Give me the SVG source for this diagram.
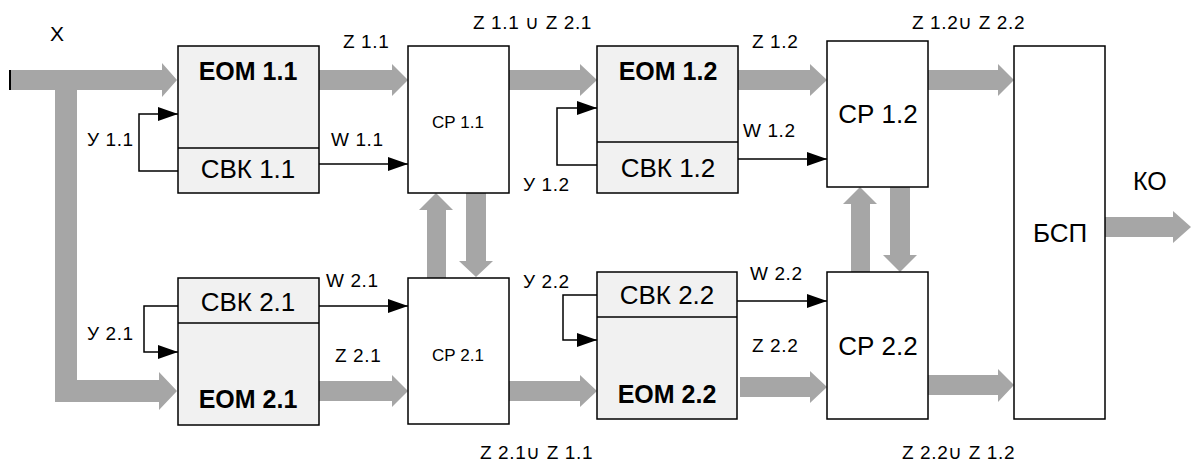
<svg xmlns="http://www.w3.org/2000/svg" width="1192" height="465" viewBox="0 0 1192 465">
<defs>
<style>
.blk{fill:#f1f1f1;stroke:#000;stroke-width:1.5}
.wb{fill:#fff;stroke:#000;stroke-width:1.5}
.dv{stroke:#000;stroke-width:1.5}
.ga{fill:#a6a6a6;stroke:none}
.ln{fill:none;stroke:#000;stroke-width:1.5}
text{font-family:"Liberation Sans",Arial,sans-serif;fill:#000}
.big{font-size:26px;text-anchor:middle}
.bb{font-size:25px;font-weight:bold;text-anchor:middle}
.sm{font-size:19px;letter-spacing:0.6px}
.cs{font-size:17px;text-anchor:middle}
</style>
<marker id="ah" markerWidth="20" markerHeight="14" refX="20" refY="7" orient="auto" markerUnits="userSpaceOnUse">
<path d="M0,0 L20,7 L0,14 z" fill="#000"/>
</marker>
</defs>
<rect width="1192" height="465" fill="#fff"/>

<g id="connectors">
<polygon class="ga" points="10,70 162,70 162,63 177,80 162,97 162,90 10,90"/>
<line x1="10" y1="70" x2="10" y2="90" stroke="#000" stroke-width="2"/>
<polygon class="ga" points="55,90 77,90 77,380 159,380 159,372 177,391 159,410 159,402 55,402"/>
<polygon class="ga" points="319,70 392,70 392,64 408,80 392,96 392,90 319,90"/>
<polygon class="ga" points="509,70 580,70 580,64 597,80 580,96 580,90 509,90"/>
<polygon class="ga" points="738,70 810,70 810,64 827,80 810,96 810,90 738,90"/>
<polygon class="ga" points="928,70 998,70 998,64 1014,80 998,96 998,90 928,90"/>
<polygon class="ga" points="1105,217 1173,217 1173,211 1191,227 1173,243 1173,237 1105,237"/>
<polygon class="ga" points="319,381 392,381 392,375 408,391 392,407 392,401 319,401"/>
<polygon class="ga" points="509,381 580,381 580,375 597,391 580,407 580,401 509,401"/>
<polygon class="ga" points="740,377 810,377 810,371 827,387 810,403 810,397 740,397"/>
<polygon class="ga" points="928,375 998,375 998,369 1014,385 998,402 998,395 928,395"/>
<polygon class="ga" points="427,278 446,278 446,210 453,210 436,193 419,210 427,210"/>
<polygon class="ga" points="466,193 486,193 486,261 493,261 476,277 459,261 466,261"/>
<polygon class="ga" points="851,272 870,272 870,204 877,204 860,187 843,204 851,204"/>
<polygon class="ga" points="890,187 910,187 910,255 917,255 900,272 883,255 890,255"/>
<polyline class="ln" points="178,171 139,171 139,114 178,114" marker-end="url(#ah)"/>
<line class="ln" x1="319" y1="164" x2="408" y2="164" marker-end="url(#ah)"/>
<polyline class="ln" points="597,165 557,165 557,108 597,108" marker-end="url(#ah)"/>
<line class="ln" x1="738" y1="159" x2="827" y2="159" marker-end="url(#ah)"/>
<polyline class="ln" points="178,306 144,306 144,352 178,352" marker-end="url(#ah)"/>
<line class="ln" x1="319" y1="306" x2="408" y2="306" marker-end="url(#ah)"/>
<polyline class="ln" points="597,295 563,295 563,340 597,340" marker-end="url(#ah)"/>
<line class="ln" x1="737" y1="301" x2="827" y2="301" marker-end="url(#ah)"/>
</g>

<g id="labels">
<text x="57" y="41" style="font-size:21px;text-anchor:middle">X</text>
<text class="sm" x="343" y="48">Z 1.1</text>
<text class="sm" x="331" y="146">W 1.1</text>
<text class="sm" x="87" y="146">У 1.1</text>
<text class="sm" x="473" y="29">Z 1.1 ∪ Z 2.1</text>
<text class="sm" x="523" y="191">У 1.2</text>
<text class="sm" x="752" y="48">Z 1.2</text>
<text class="sm" x="743" y="137">W 1.2</text>
<text class="sm" x="912" y="29">Z 1.2∪ Z 2.2</text>
<text x="1133" y="190" style="font-size:25px">КО</text>
<text class="sm" x="87" y="340">У 2.1</text>
<text class="sm" x="326" y="287">W 2.1</text>
<text class="sm" x="335" y="362">Z 2.1</text>
<text class="sm" x="523" y="288">У 2.2</text>
<text class="sm" x="750" y="280">W 2.2</text>
<text class="sm" x="752" y="352">Z 2.2</text>
<text class="sm" x="480" y="459">Z 2.1∪ Z 1.1</text>
<text class="sm" x="902" y="459">Z 2.2∪ Z 1.2</text>
</g>

<g id="eom11">
<rect class="blk" x="178" y="46" width="141" height="147"/>
<line class="dv" x1="178" y1="148" x2="319" y2="148"/>
<text class="bb" x="248" y="80">ЕОМ 1.1</text>
<text class="big" x="248" y="178">СВК 1.1</text>
</g>
<g id="cp11">
<rect class="wb" x="408" y="46" width="101" height="147"/>
<text class="cs" x="458" y="128">СР 1.1</text>
</g>
<g id="eom12">
<rect class="blk" x="597" y="46" width="141" height="147"/>
<line class="dv" x1="597" y1="142" x2="738" y2="142"/>
<text class="bb" x="668" y="80">ЕОМ 1.2</text>
<text class="big" x="668" y="177">СВК 1.2</text>
</g>
<g id="cp12">
<rect class="wb" x="827" y="41" width="101" height="146"/>
<text class="big" x="878" y="123">СР 1.2</text>
</g>
<g id="bsp">
<rect class="wb" x="1014" y="46" width="91" height="373"/>
<text class="big" x="1060" y="242">БСП</text>
</g>
<g id="eom21">
<rect class="blk" x="178" y="278" width="141" height="147"/>
<line class="dv" x1="178" y1="323" x2="319" y2="323"/>
<text class="big" x="248" y="311">СВК 2.1</text>
<text class="bb" x="248" y="408">ЕОМ 2.1</text>
</g>
<g id="cp21">
<rect class="wb" x="408" y="278" width="101" height="146"/>
<text class="cs" x="458" y="361">СР 2.1</text>
</g>
<g id="eom22">
<rect class="blk" x="597" y="272" width="140" height="147"/>
<line class="dv" x1="597" y1="317" x2="737" y2="317"/>
<text class="big" x="667" y="304">СВК 2.2</text>
<text class="bb" x="667" y="403">ЕОМ 2.2</text>
</g>
<g id="cp22">
<rect class="wb" x="827" y="272" width="101" height="147"/>
<text class="big" x="878" y="355">СР 2.2</text>
</g>
</svg>
